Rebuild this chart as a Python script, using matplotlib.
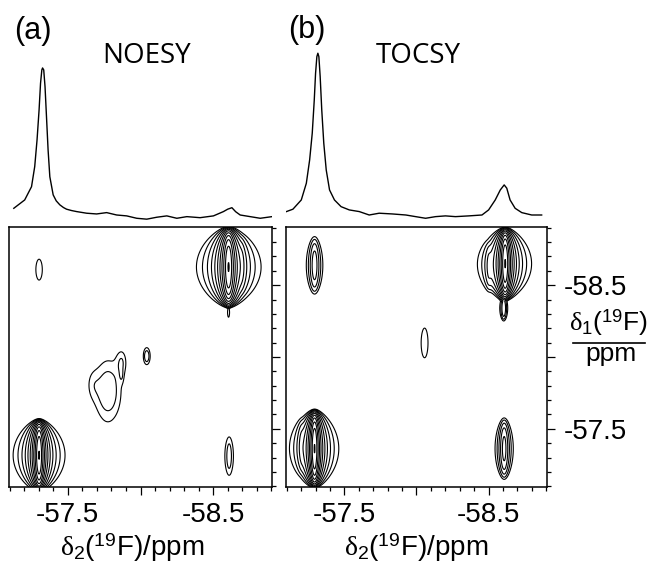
import numpy as np
import matplotlib
matplotlib.use('Agg')
import matplotlib.pyplot as plt
from matplotlib.ticker import FixedLocator, MultipleLocator
from matplotlib.lines import Line2D

# both dimensions share the same window (ppm)
ppm_left = -57.095
ppm_right = -58.905
major_ticks = [-57.5, -58.0, -58.5]
major_labels = ['-57.5', '', '-58.5']

# 1D traces above the maps
noesy_1d_ppm = [-57.128, -57.203, -57.250, -57.272, -57.288, -57.302, -57.312, -57.321, -57.326, -57.334,
	-57.343, -57.353, -57.364, -57.376, -57.399, -57.420, -57.445, -57.470, -57.491, -57.525, -57.560, -57.629, -57.698,
	-57.767, -57.836, -57.905, -57.974, -58.043, -58.112, -58.181, -58.250, -58.319, -58.410,
	-58.502, -58.571, -58.600, -58.629, -58.655, -58.686, -58.755, -58.824, -58.905]
noesy_1d_int = [0.058, 0.114, 0.203, 0.338, 0.517, 0.718, 0.897, 0.987, 1.0, 0.987,
	0.874, 0.673, 0.450, 0.270, 0.148, 0.108, 0.081, 0.063, 0.052, 0.043, 0.036, 0.025, 0.020,
	0.029, 0.013, 0.007, -0.009, -0.015, -0.002, 0.007, -0.009, 0.002, -0.005,
	0.007, 0.036, 0.052, 0.062, 0.035, 0.013, 0.002, -0.009, 0.002]

tocsy_1d_ppm = [-57.098, -57.143, -57.201, -57.236, -57.259, -57.277, -57.291, -57.300, -57.309, -57.316,
	-57.323, -57.332, -57.343, -57.357, -57.374, -57.397, -57.431, -57.477, -57.534, -57.603,
	-57.672, -57.741, -57.833, -57.926, -57.994, -58.063, -58.132, -58.201, -58.270, -58.362,
	-58.454, -58.500, -58.546, -58.581, -58.608, -58.626, -58.649, -58.684, -58.730, -58.799, -58.868]
tocsy_1d_int = [0.036, 0.052, 0.114, 0.226, 0.383, 0.562, 0.785, 0.964, 1.076, 1.099,
	1.076, 0.942, 0.718, 0.495, 0.315, 0.181, 0.114, 0.069, 0.047, 0.036,
	0.013, 0.025, 0.020, 0.013, 0.002, -0.009, 0.002, 0.007, 0.002, 0.007,
	0.013, 0.047, 0.114, 0.181, 0.215, 0.193, 0.114, 0.058, 0.029, 0.013, 0.013]

# 2D peaks: delta2, delta1, amplitude, half width (delta2), half extent (delta1)
noesy_d2 = [-57.302, -58.606, -58.700, -58.606, -57.302, -58.610]
noesy_d1 = [-57.316, -58.626, -58.640, -58.310, -58.608, -57.310]
noesy_amp = [0.88, 0.88, 0.020, 0.022, 0.019, 0.028]
noesy_w2 = [0.0235, 0.029, 0.020, 0.010, 0.040, 0.031]
noesy_w1 = [0.264, 0.293, 0.220, 0.070, 0.181, 0.227]
# broad artefact near the diagonal (gaussian blobs)
noesy_blob_d2 = [-57.776, -57.872, -57.666, -57.870, -58.043]
noesy_blob_d1 = [-57.762, -57.969, -57.810, -57.868, -58.006]
noesy_blob_amp = [0.030, 0.017, 0.010, 0.008, 0.030]
noesy_blob_w2 = [0.076, 0.028, 0.034, 0.010, 0.020]
noesy_blob_w1 = [0.179, 0.069, 0.083, 0.034, 0.050]

tocsy_d2 = [-57.293, -57.200, -58.615, -58.500, -58.605, -57.293, -58.608, -58.056]
tocsy_d1 = [-57.362, -57.380, -58.650, -58.620, -58.340, -58.638, -57.362, -58.098]
tocsy_amp = [0.88, 0.020, 0.88, 0.025, 0.050, 0.065, 0.090, 0.019]
tocsy_w2 = [0.022, 0.020, 0.024, 0.020, 0.018, 0.031, 0.028, 0.046]
tocsy_w1 = [0.285, 0.220, 0.263, 0.200, 0.120, 0.253, 0.256, 0.270]

contour_levels = [0.015, 0.0225, 0.0338, 0.0506, 0.0759, 0.114, 0.171, 0.256, 0.384, 0.577, 0.865]

plt.rcParams['font.family'] = ['Liberation Sans', 'DejaVu Sans']
plt.rcParams['mathtext.fontset'] = 'custom'
plt.rcParams['mathtext.rm'] = 'Liberation Sans'
plt.rcParams['mathtext.it'] = 'Liberation Serif'
plt.rcParams['mathtext.bf'] = 'Liberation Sans:bold'

W = 650.0
H = 569.0

def box(x0, y0, x1, y1):
	return [x0/W, 1-y1/H, (x1-x0)/W, (y1-y0)/H]

def surface(X, Y, d2, d1, amp, w2, w1, bd2=[], bd1=[], bamp=[], bw2=[], bw1=[]):
	Z = np.zeros_like(X)
	for c2, c1, a, g2, h1 in zip(d2, d1, amp, w2, w1):
		prof = np.clip(1-((Y-c1)/h1)**2, 0, None)**1.5
		Z += a/(1+((X-c2)/g2)**2)*prof
	for c2, c1, a, g2, s1 in zip(bd2, bd1, bamp, bw2, bw1):
		Z += a*np.exp(-0.5*((X-c2)/g2)**2-0.5*((Y-c1)/s1)**2)
	return Z

def style_2d(ax, show_ylabels):
	ax.set_xlim(ppm_left, ppm_right)
	ax.set_ylim(ppm_left, ppm_right)
	ax.xaxis.set_major_locator(FixedLocator(major_ticks))
	ax.xaxis.set_minor_locator(MultipleLocator(0.1))
	ax.yaxis.set_major_locator(FixedLocator(major_ticks))
	ax.yaxis.set_minor_locator(MultipleLocator(0.1))
	ax.set_xticklabels(major_labels)
	ax.set_yticklabels(major_labels)
	ax.yaxis.tick_right()
	ax.tick_params(which='major', direction='out', length=6, width=0.9, labelsize=20, pad=5)
	ax.tick_params(which='minor', direction='out', length=3, width=0.9)
	ax.tick_params(axis='y', which='both', left=False, right=True, labelleft=False, labelright=show_ylabels, pad=6)
	for s in ax.spines.values():
		s.set_linewidth(1.1)

def plot_panel(fig, x0, x1, ppm1d, int1d, Z, show_ylabels):
	top = fig.add_axes(box(x0, 20, x1, 222))
	top.plot(ppm1d, int1d, color='k', lw=1.0)
	top.set_xlim(ppm_left, ppm_right)
	top.set_ylim(-0.034, 1.322)
	top.axis('off')
	ax = fig.add_axes(box(x0, 227, x1, 487))
	ax.contour(X, Y, Z, levels=contour_levels, colors='k', linewidths=0.8)
	style_2d(ax, show_ylabels)
	return ax

fig = plt.figure(figsize=(6.5, 5.69), dpi=100)
grid = np.linspace(ppm_right, ppm_left, 700)
X, Y = np.meshgrid(grid, grid)

Zn = surface(X, Y, noesy_d2, noesy_d1, noesy_amp, noesy_w2, noesy_w1,
	noesy_blob_d2, noesy_blob_d1, noesy_blob_amp, noesy_blob_w2, noesy_blob_w1)
Zt = surface(X, Y, tocsy_d2, tocsy_d1, tocsy_amp, tocsy_w2, tocsy_w1)

plot_panel(fig, 9, 272, noesy_1d_ppm, noesy_1d_int, Zn, False)
plot_panel(fig, 286, 547, tocsy_1d_ppm, tocsy_1d_int, Zt, True)

fig.text(33/W, 1-31/H, '(a)', fontsize=22, ha='center', va='center')
fig.text(307/W, 1-30/H, '(b)', fontsize=22, ha='center', va='center')
fig.text(147/W, 1-56/H, 'NOESY', fontsize=20, ha='center', va='center', family=['Open Sans', 'DejaVu Sans'])
fig.text(418/W, 1-56/H, 'TOCSY', fontsize=20, ha='center', va='center', family=['Open Sans', 'DejaVu Sans'])

xlab = r'$\delta_2$($^{19}$F)/ppm'
fig.text(132/W, 1-556/H, xlab, fontsize=20, ha='center', va='baseline')
fig.text(416/W, 1-556/H, xlab, fontsize=20, ha='center', va='baseline')

fig.text(608/W, 1-331/H, r'$\delta_1$($^{19}$F)', fontsize=19, ha='center', va='baseline')
fig.add_artist(Line2D([573/W, 645/W], [1-343/H, 1-343/H], transform=fig.transFigure, color='k', lw=1.2))
fig.text(611/W, 1-361/H, 'ppm', fontsize=19, ha='center', va='baseline')

plt.savefig('out.png', dpi=100)
